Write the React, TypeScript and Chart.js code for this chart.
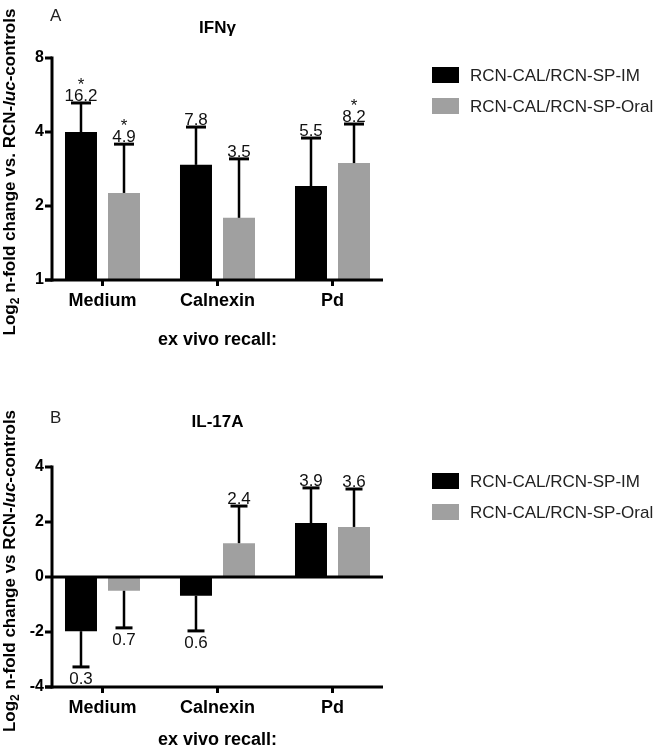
import React, { useEffect, useRef } from "react";
import { Chart, registerables } from "chart.js";

Chart.register(...registerables);

const FAMILY = '"Liberation Sans", Arial, Helvetica, sans-serif';
Chart.defaults.font.family = FAMILY;

// ---------- data ----------
const categories = ["Medium", "Calnexin", "Pd"];
const seriesNames = ["RCN-CAL/RCN-SP-IM", "RCN-CAL/RCN-SP-Oral"];
const seriesColors = ["#000000", "#a0a0a0"];

// Panel A: IFNγ (fold change, log2 axis)
const ifnIM = [4.0, 2.94, 2.41];
const ifnOral = [2.26, 1.79, 2.99];
const ifnIMErr = [5.25, 4.19, 3.78];
const ifnOralErr = [3.57, 3.11, 4.31];
const ifnIMLabels = ["16.2", "7.8", "5.5"];
const ifnOralLabels = ["4.9", "3.5", "8.2"];
const ifnIMStars = [true, false, false];
const ifnOralStars = [true, false, true];
const ifnTicks = [1, 2, 4, 8];

// Panel B: IL-17A (log2 values)
const il17IM = [-1.97, -0.68, 1.96];
const il17Oral = [-0.5, 1.23, 1.82];
const il17IMErr = [-3.27, -1.96, 3.24];
const il17OralErr = [-1.85, 2.58, 3.2];
const il17IMLabels = ["0.3", "0.6", "3.9"];
const il17OralLabels = ["0.7", "2.4", "3.6"];
const il17IMStars = [false, false, false];
const il17OralStars = [false, false, false];
const il17Ticks = [-4, -2, 0, 2, 4];

const yTitleA: [string, string][] = [
  ["Log", "b"],
  ["2", "sub"],
  [" n-fold change vs. RCN-", "b"],
  ["luc", "bi"],
  ["-controls", "b"],
];
const yTitleB: [string, string][] = [
  ["Log", "b"],
  ["2", "sub"],
  [" n-fold change vs RCN-", "b"],
  ["luc", "bi"],
  ["-controls", "b"],
];

// ---------- helpers ----------
const font = (size: number, weight = "normal", style = "normal") =>
  `${style} ${weight} ${size}px ${FAMILY}`;

type Spec = {
  kind: "logarithmic" | "linear";
  min: number;
  max: number;
  ticks: number[];
  im: number[];
  oral: number[];
  imErr: number[];
  oralErr: number[];
  imLabels: string[];
  oralLabels: string[];
  imStars: boolean[];
  oralStars: boolean[];
  base?: number;
  zeroLine: boolean;
  letter: string;
  title: string;
  yTitle: [string, string][];
  padTop: number;
  xHeight: number;
  capW: number;
  letterY: number;
  titleY: number;
  legendTop: number;
  yTitleCenter: number;
  xTitleY: number;
};

const specA: Spec = {
  kind: "logarithmic",
  min: 1,
  max: 8,
  ticks: ifnTicks,
  im: ifnIM,
  oral: ifnOral,
  imErr: ifnIMErr,
  oralErr: ifnOralErr,
  imLabels: ifnIMLabels,
  oralLabels: ifnOralLabels,
  imStars: ifnIMStars,
  oralStars: ifnOralStars,
  base: 1,
  zeroLine: false,
  letter: "A",
  title: "IFNγ",
  yTitle: yTitleA,
  padTop: 58,
  xHeight: 93,
  capW: 20,
  letterY: 21,
  titleY: 33,
  legendTop: 67,
  yTitleCenter: 172,
  xTitleY: 345,
};

const specB: Spec = {
  kind: "linear",
  min: -4,
  max: 4,
  ticks: il17Ticks,
  im: il17IM,
  oral: il17Oral,
  imErr: il17IMErr,
  oralErr: il17OralErr,
  imLabels: il17IMLabels,
  oralLabels: il17OralLabels,
  imStars: il17IMStars,
  oralStars: il17OralStars,
  zeroLine: true,
  letter: "B",
  title: "IL-17A",
  yTitle: yTitleB,
  padTop: 94,
  xHeight: 59,
  capW: 17,
  letterY: 50,
  titleY: 54,
  legendTop: 100,
  yTitleCenter: 198,
  xTitleY: 372,
};

const AXIS_INSET = 7;

function decorPlugin(spec: Spec) {
  return {
    id: "panelDecor",
    afterDatasetsDraw(chart: any) {
      const ctx: CanvasRenderingContext2D = chart.ctx;
      const { left, right, top, bottom } = chart.chartArea;
      const y = chart.scales.y;
      const axisX = left + AXIS_INSET;
      const axisEnd = right - AXIS_INSET;
      ctx.save();
      ctx.strokeStyle = "#000";
      ctx.lineCap = "butt";

      const groups = [
        { errs: spec.imErr, labels: spec.imLabels, stars: spec.imStars },
        { errs: spec.oralErr, labels: spec.oralLabels, stars: spec.oralStars },
      ];
      groups.forEach((g, di) => {
        const meta = chart.getDatasetMeta(di);
        meta.data.forEach((bar: any, j: number) => {
          const bx = bar.x;
          const by = bar.y;
          const ey = y.getPixelForValue(g.errs[j]);
          ctx.lineWidth = 2.5;
          ctx.beginPath();
          ctx.moveTo(bx, by);
          ctx.lineTo(bx, ey);
          ctx.stroke();
          ctx.lineWidth = 3;
          ctx.beginPath();
          ctx.moveTo(bx - spec.capW / 2, ey);
          ctx.lineTo(bx + spec.capW / 2, ey);
          ctx.stroke();
          ctx.fillStyle = "#111";
          ctx.font = font(17);
          ctx.textAlign = "center";
          ctx.textBaseline = "alphabetic";
          if (ey <= by) {
            ctx.fillText(g.labels[j], bx, ey - 2);
            if (g.stars[j]) ctx.fillText("*", bx, ey - 13);
          } else {
            ctx.fillText(g.labels[j], bx, ey + 17);
          }
        });
      });

      ctx.lineWidth = 3;
      // y axis
      ctx.beginPath();
      ctx.moveTo(axisX, top - 1.5);
      ctx.lineTo(axisX, bottom + 1.5);
      ctx.stroke();
      // y tick marks
      y.ticks.forEach((t: any) => {
        const py = y.getPixelForValue(t.value);
        ctx.beginPath();
        ctx.moveTo(left, py);
        ctx.lineTo(axisX, py);
        ctx.stroke();
      });
      // x axis
      ctx.beginPath();
      ctx.moveTo(left, bottom);
      ctx.lineTo(axisEnd, bottom);
      ctx.stroke();
      if (spec.zeroLine) {
        const zy = y.getPixelForValue(0);
        ctx.beginPath();
        ctx.moveTo(axisX, zy);
        ctx.lineTo(axisEnd, zy);
        ctx.stroke();
      }
      ctx.restore();
    },
    afterDraw(chart: any) {
      const ctx: CanvasRenderingContext2D = chart.ctx;
      const x = chart.scales.x;
      const midX = x.getPixelForValue(1);
      ctx.save();

      // panel letter and title
      ctx.fillStyle = "#222";
      ctx.textBaseline = "alphabetic";
      ctx.textAlign = "left";
      ctx.font = font(17);
      ctx.fillText(spec.letter, 50, spec.letterY);
      ctx.fillStyle = "#000";
      ctx.textAlign = "center";
      ctx.font = font(17, "bold");
      ctx.fillText(spec.title, midX, spec.titleY);

      // x axis title
      ctx.font = font(18, "bold");
      ctx.fillText("ex vivo recall:", midX, spec.xTitleY);

      // legend
      chart.data.datasets.forEach((ds: any, i: number) => {
        const ty = spec.legendTop + i * 31;
        ctx.fillStyle = ds.backgroundColor;
        ctx.fillRect(432, ty, 27, 16);
        ctx.fillStyle = "#222";
        ctx.font = font(17);
        ctx.textAlign = "left";
        ctx.textBaseline = "middle";
        ctx.fillText(ds.label, 470, ty + 9);
      });

      // y axis title (rotated, rich text)
      ctx.translate(15, spec.yTitleCenter);
      ctx.rotate(-Math.PI / 2);
      ctx.textAlign = "left";
      ctx.textBaseline = "alphabetic";
      ctx.fillStyle = "#000";
      const fontFor = (k: string) =>
        k === "sub" ? font(12, "bold") : k === "bi" ? font(17, "bold", "italic") : font(17, "bold");
      let total = 0;
      spec.yTitle.forEach(([t, k]) => {
        ctx.font = fontFor(k);
        total += ctx.measureText(t).width;
      });
      let cx = -total / 2;
      spec.yTitle.forEach(([t, k]) => {
        ctx.font = fontFor(k);
        ctx.fillText(t, cx, k === "sub" ? 4 : 0);
        cx += ctx.measureText(t).width;
      });
      ctx.restore();
    },
  };
}

function makeConfig(spec: Spec): any {
  return {
    type: "bar",
    data: {
      labels: categories,
      datasets: [
        {
          label: seriesNames[0],
          data: spec.im,
          backgroundColor: seriesColors[0],
          base: spec.base,
          categoryPercentage: 0.748,
          barPercentage: 0.744,
        },
        {
          label: seriesNames[1],
          data: spec.oral,
          backgroundColor: seriesColors[1],
          base: spec.base,
          categoryPercentage: 0.748,
          barPercentage: 0.744,
        },
      ],
    },
    options: {
      responsive: false,
      maintainAspectRatio: false,
      animation: false,
      layout: { padding: { left: 0, top: spec.padTop, right: 273, bottom: 0 } },
      plugins: { legend: { display: false }, tooltip: { enabled: false } },
      scales: {
        x: {
          type: "category",
          offset: true,
          grid: {
            display: true,
            offset: false,
            drawOnChartArea: false,
            drawTicks: true,
            tickLength: 6,
            tickWidth: 3,
            tickColor: "#000",
            color: "#000",
            lineWidth: 3,
          },
          border: { display: false },
          ticks: {
            font: { family: FAMILY, size: 18, weight: "bold" },
            color: "#000",
            padding: 4,
            maxRotation: 0,
            autoSkip: false,
          },
          afterFit: (s: any) => {
            s.height = spec.xHeight;
          },
        },
        y: {
          type: spec.kind,
          min: spec.min,
          max: spec.max,
          grid: { display: false, drawTicks: false },
          border: { display: false },
          ticks: {
            font: { family: FAMILY, size: 16, weight: "bold" },
            color: "#000",
            padding: 1,
            callback: (v: any) => String(v),
          },
          afterBuildTicks: (s: any) => {
            s.ticks = spec.ticks.map((v) => ({ value: v }));
          },
          afterFit: (s: any) => {
            s.width = 45;
          },
        },
      },
    },
    plugins: [decorPlugin(spec)],
  };
}

function Panel({ spec }: { spec: Spec }) {
  const ref = useRef<HTMLCanvasElement>(null);
  useEffect(() => {
    if (!ref.current) return;
    const chart = new Chart(ref.current, makeConfig(spec));
    return () => chart.destroy();
  }, [spec]);
  return <canvas ref={ref} width={663} height={373} style={{ display: "block", width: 663, height: 373 }} />;
}

export default function App() {
  return (
    <div style={{ position: "absolute", left: 0, top: 0, width: 663, height: 746, background: "#fff" }}>
      <Panel spec={specA} />
      <Panel spec={specB} />
    </div>
  );
}
